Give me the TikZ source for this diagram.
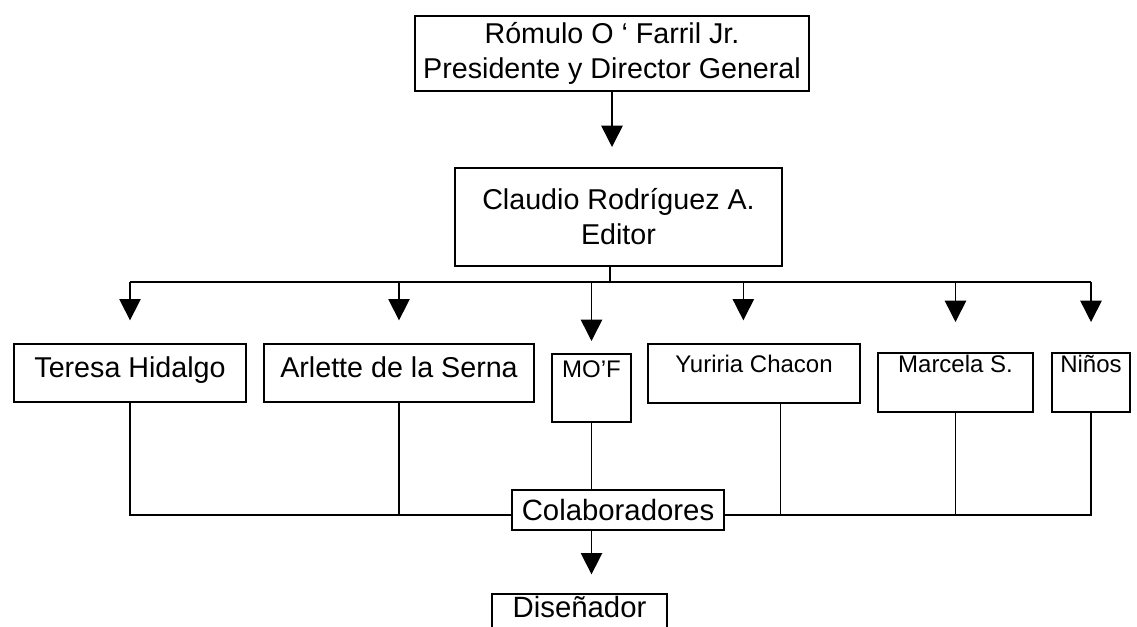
\documentclass[tikz,border=0pt]{standalone}
\usepackage{fontspec}
\setmainfont{Liberation Sans}
\usetikzlibrary{arrows.meta, positioning}

\begin{document}
\begin{tikzpicture}[
        x=0.75pt, y=-0.75pt,
        box/.style={draw, fill=white, line width=1.2pt, inner sep=0pt, anchor=north},
        big/.style={font=\fontsize{21.5}{26}\selectfont},
        small/.style={font=\fontsize{18}{22}\selectfont},
        arrow/.style={-{Triangle[length=16pt, width=16pt]}, line width=1.2pt, shorten >=17pt},
        link/.style={line width=1.2pt}
    ]
        \useasboundingbox (0,0) rectangle (1137,627);

        \node[box, big, align=center, minimum width=295.5pt, minimum height=56.25pt] (romulo) at (612,15) {Rómulo O ‘ Farril Jr.\\Presidente y Director General};
        \node[box, big, align=center, minimum width=245.25pt, minimum height=73.5pt] (claudio) at (618.5,167) {Claudio Rodríguez A.\\Editor};

        \node[box, big, minimum width=174pt, text height=25.5pt, text depth=18pt] (teresa) at (130,343) {Teresa Hidalgo};
        \node[box, big, minimum width=202.5pt, text height=25.5pt, text depth=18pt] (arlette) at (399,343) {Arlette de la Serna};
        \node[box, small, minimum width=59.25pt, text height=17.7pt, text depth=33.3pt] (mof) at (591.5,353) {MO'F};
        \node[box, small, minimum width=159pt, text height=21.5pt, text depth=22.8pt] (yuriria) at (754,343) {Yuriria Chacon};
        \node[box, small, minimum width=116.25pt, text height=14.7pt, text depth=29.6pt] (marcela) at (955.5,352) {Marcela S.};
        \node[box, small, minimum width=58.5pt, text height=14.7pt, text depth=29.6pt] (ninos) at (1091,352) {Niños};

        \node[box, font=\fontsize{22}{26}\selectfont, minimum width=159pt, text height=22.9pt, text depth=7.1pt] (colab) at (618,489) {Colaboradores};
        \node[box, font=\fontsize{22}{26}\selectfont, minimum width=131.25pt, text height=17.6pt, text depth=30pt] (diseno) at (579.5,593) {Diseñador};

        \coordinate (bus) at (610,282);
        \coordinate (low) at (610,515);
        \coordinate (yin) at ([xshift=-8pt]yuriria.north);
        \coordinate (yout) at ([xshift=20pt]yuriria.south);

        % editor branch
        \draw[arrow, shorten >=15pt] (romulo.south) -- (romulo.south |- claudio.north);
        \draw[link] (claudio.south -| bus) -- (bus);
        \draw[link] (teresa.north |- bus) -- (ninos.north |- bus);
        \draw[arrow] (teresa.north |- bus) -- (teresa.north);
        \draw[arrow] (arlette.north |- bus) -- (arlette.north);
        \draw[arrow, shorten >=9pt] (mof.north |- bus) -- (mof.north);
        \draw[arrow] (yin |- bus) -- (yin);
        \draw[arrow, shorten >=22.5pt] (marcela.north |- bus) -- (marcela.north);
        \draw[arrow, shorten >=22.5pt] (ninos.north |- bus) -- (ninos.north);

        % colaboradores
        \draw[link] (teresa.south) -- (teresa.south |- low) -- (colab.west |- low);
        \draw[link] (ninos.south) -- (ninos.south |- low) -- (colab.east |- low);
        \draw[link] (arlette.south) -- (arlette.south |- low);
        \draw[link] (yout) -- (yout |- low);
        \draw[link] (marcela.south) -- (marcela.south |- low);
        \draw[link] (mof.south) -- (mof.south |- colab.north);
        \draw[arrow, shorten >=14pt] (mof.south |- colab.south) -- (mof.south |- diseno.north);
    \end{tikzpicture}
\end{document}
